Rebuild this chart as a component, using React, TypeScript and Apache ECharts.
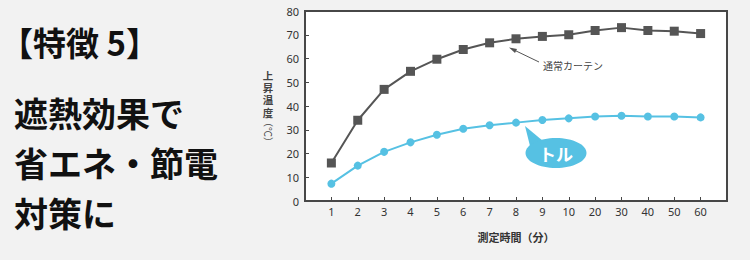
import React, { useEffect, useRef } from "react";
import * as echarts from "echarts";

const times = ["1", "2", "3", "4", "5", "6", "7", "8", "9", "10", "20", "30", "40", "50", "60"];
const curtain = [16, 34, 47, 54.6, 59.7, 63.8, 66.6, 68.3, 69.3, 70, 71.8, 73, 71.8, 71.5, 70.5];
const toru = [7.3, 14.9, 20.7, 24.7, 27.9, 30.4, 31.9, 33, 34.1, 34.8, 35.6, 35.9, 35.6, 35.6, 35.2];
const yTicks = [0, 10, 20, 30, 40, 50, 60, 70, 80];

const titleLines = ["遮熱効果で", "省エネ・節電", "対策に"];
const yNameChars = ["上", "昇", "温", "度"];
const yNameUnit = "（℃）";

export default function App() {
  const ref = useRef<HTMLDivElement>(null);
  useEffect(() => {
    if (!ref.current) return;
    const chart = echarts.init(ref.current, null, { renderer: "svg" });
    const cats = ["", ...times, ""];
    const font = "'Noto Sans CJK JP', 'Noto Sans', sans-serif";
    const blue = "#56c1e3";
    const gray = "#555555";
    chart.setOption({
      animation: false,
      backgroundColor: "#f2f2f2",
      textStyle: { fontFamily: font },
      grid: {
        left: 305,
        top: 11,
        right: 23,
        bottom: 59,
        show: true,
        backgroundColor: "#ffffff",
        borderColor: "#474747",
        borderWidth: 2,
      },
      xAxis: {
        type: "category",
        data: cats,
        boundaryGap: false,
        axisLine: { lineStyle: { color: "#474747", width: 2 } },
        axisTick: {
          inside: true,
          length: 4,
          interval: (_i: number, v: string) => v !== "",
          lineStyle: { color: "#474747" },
        },
        axisLabel: { interval: 0, color: "#333", fontSize: 11, margin: 5, fontFamily: "'Noto Sans', sans-serif" },
        splitLine: { show: false },
        name: "測定時間（分）",
        nameLocation: "middle",
        nameGap: 30,
        nameTextStyle: { color: "#333", fontSize: 11, fontWeight: "bold", fontFamily: font },
      },
      yAxis: {
        type: "value",
        min: yTicks[0],
        max: yTicks[yTicks.length - 1],
        interval: 10,
        axisLine: { show: true, lineStyle: { color: "#474747", width: 2 } },
        axisTick: { show: true, inside: true, length: 4, lineStyle: { color: "#474747" } },
        axisLabel: { color: "#333", fontSize: 11, margin: 6, fontFamily: "'Noto Sans', sans-serif" },
        splitLine: { show: false },
      },
      series: [
        {
          name: "通常カーテン",
          type: "line",
          data: times.map((t, i) => [t, curtain[i]]),
          symbol: "rect",
          symbolSize: 9,
          itemStyle: { color: gray },
          lineStyle: { color: gray, width: 2 },
        },
        {
          name: "トル",
          type: "line",
          data: times.map((t, i) => [t, toru[i]]),
          symbol: "circle",
          symbolSize: 8,
          itemStyle: { color: blue },
          lineStyle: { color: blue, width: 2 },
        },
      ],
      graphic: [
        {
          type: "text",
          x: 0,
          y: 42,
          style: { text: "【特徴 5】", font: `bold 33px ${font}`, fill: "#111", verticalAlign: "middle" },
        },
        ...titleLines.map((t, i) => ({
          type: "text",
          x: 14,
          y: 112 + i * 50,
          style: { text: t, font: `bold 34px ${font}`, fill: "#111", verticalAlign: "middle" },
        })),
        ...yNameChars.map((c, i) => ({
          type: "text",
          x: 268,
          y: 75 + i * 12.4,
          style: {
            text: c,
            font: `bold 10.5px ${font}`,
            fill: "#444",
            align: "center",
            verticalAlign: "middle",
            lineHeight: 11,
          },
        })),
        {
          type: "text",
          x: 268,
          y: 132,
          rotation: -Math.PI / 2,
          style: {
            text: yNameUnit,
            font: `10px ${font}`,
            fill: "#444",
            align: "center",
            verticalAlign: "middle",
          },
        },
        {
          type: "line",
          shape: { x1: 539, y1: 62, x2: 512, y2: 49 },
          style: { stroke: "#555", lineWidth: 1 },
        },
        {
          type: "polygon",
          shape: { points: [[509, 47.5], [517, 49], [515, 53]] },
          style: { fill: "#555" },
        },
        {
          type: "text",
          x: 543,
          y: 65,
          style: { text: "通常カーテン", font: `10px ${font}`, fill: "#444", verticalAlign: "middle" },
        },
        {
          type: "polygon",
          shape: { points: [[525, 126], [530, 146], [543, 141]] },
          style: { fill: blue },
        },
        {
          type: "ellipse",
          shape: { cx: 556, cy: 153, rx: 30.5, ry: 15 },
          style: { fill: blue },
        },
        {
          type: "text",
          x: 556,
          y: 153,
          style: {
            text: "トル",
            font: `bold 17px ${font}`,
            fill: "#fff",
            align: "center",
            verticalAlign: "middle",
          },
        },
      ],
    });
    return () => chart.dispose();
  }, []);
  return (
    <div
      ref={ref}
      style={{ position: "absolute", left: 0, top: 0, width: 750, height: 260, background: "#f2f2f2" }}
    />
  );
}
